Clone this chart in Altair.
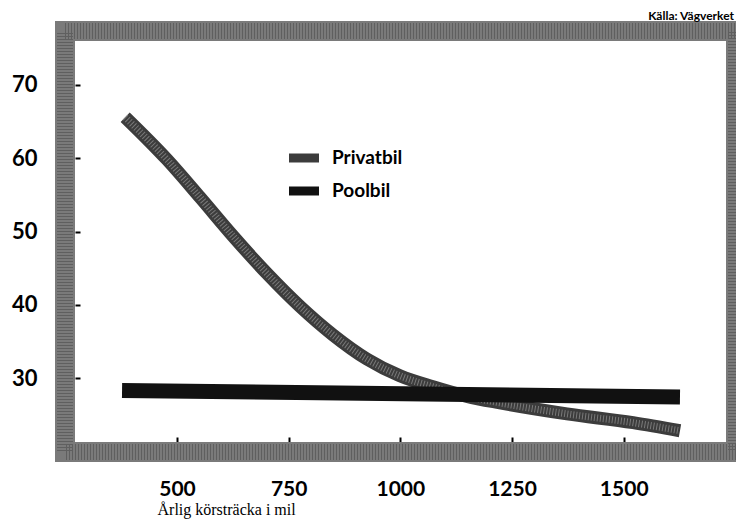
import altair as alt
import pandas as pd

# Data
privat_x = [384, 478, 551, 625, 701, 775, 849, 925, 999, 1073, 1149, 1223, 1373, 1521, 1626]
privat_y = [65.6, 59.8, 54.7, 49.4, 44.3, 39.8, 35.9, 32.6, 30.3, 28.8, 27.5, 26.6, 25.1, 23.9, 22.8]
pool_x = [377, 1626]
pool_y = [28.3, 27.4]
series = ["Privatbil", "Poolbil"]
x_ticks = [500, 750, 1000, 1250, 1500]
y_ticks = [30, 40, 50, 60, 70]
source_text = "Källa: Vägverket"
x_title = "Årlig körsträcka i mil"

W, H = 671, 421

df = pd.concat([
    pd.DataFrame({"Serie": "Privatbil", "x": privat_x, "y": privat_y}),
    pd.DataFrame({"Serie": "Poolbil", "x": pool_x, "y": pool_y}),
], ignore_index=True)

xs = alt.Scale(domain=[249.3, 1751.4], nice=False, zero=False)
ys = alt.Scale(domain=[19.9, 77.37], nice=False, zero=False)

x_axis = alt.Axis(values=x_ticks, format="d", title=x_title, offset=-15, domain=False, grid=False,
                  tickSize=5, tickWidth=2, tickColor="black", labelPadding=36,
                  labelFont="Lato", labelFontWeight="bold", labelFontSize=21, labelColor="black",
                  titleFont="Liberation Serif", titleFontWeight="normal", titleFontSize=16,
                  titleColor="black", titleX=92, titleY=77, titleAlign="left",
                  titleBaseline="alphabetic")
y_axis = alt.Axis(values=y_ticks, format="d", title=None, offset=-15, domain=False, grid=False,
                  tickSize=5, tickWidth=2, tickColor="black", labelPadding=38,
                  labelFont="Lato", labelFontWeight="bold", labelFontSize=22, labelColor="black")

color = alt.Color("Serie:N",
                  scale=alt.Scale(domain=series, range=["#3c3c3c", "#111111"]),
                  legend=alt.Legend(title=None, orient="none", legendX=227, legendY=115,
                                    symbolType="M-2,0H2", symbolSize=225, symbolStrokeWidth=9,
                                    rowPadding=-3, labelOffset=16, labelFont="Lato",
                                    labelFontWeight="bold", labelFontSize=19, labelColor="black"))

base = alt.Chart(df)

frame = alt.Chart(pd.DataFrame({"f": [0]})).mark_rect(
    filled=False, stroke="#7a7a7a", strokeWidth=20
).encode(x=alt.value(0), x2=alt.value(W), y=alt.value(0), y2=alt.value(H))

frame_tex = alt.Chart(pd.DataFrame({"f": [0]})).mark_rect(
    filled=False, stroke="#222222", strokeWidth=16, strokeDash=[1, 2], strokeOpacity=0.3
).encode(x=alt.value(0), x2=alt.value(W), y=alt.value(0), y2=alt.value(H))

priv = base.transform_filter(alt.datum.Serie == "Privatbil").mark_line(
    strokeWidth=13, interpolate="monotone", strokeCap="butt"
).encode(x=alt.X("x:Q", scale=xs, axis=x_axis), y=alt.Y("y:Q", scale=ys, axis=y_axis), color=color)

priv_tex = base.transform_filter(alt.datum.Serie == "Privatbil").mark_line(
    strokeWidth=7, interpolate="monotone", strokeCap="butt", color="#7a7a7a", strokeDash=[1, 2]
).encode(x=alt.X("x:Q", scale=xs), y=alt.Y("y:Q", scale=ys))

pool = base.transform_filter(alt.datum.Serie == "Poolbil").mark_line(
    strokeWidth=15, strokeCap="butt"
).encode(x=alt.X("x:Q", scale=xs), y=alt.Y("y:Q", scale=ys), color=color)

src = alt.Chart(pd.DataFrame({"t": [source_text]})).mark_text(
    align="right", baseline="alphabetic", font="Lato", fontWeight="bold", fontSize=12, color="black"
).encode(text="t:N", x=alt.value(W - 2), y=alt.value(-11))

chart = alt.layer(priv, priv_tex, pool, frame, frame_tex, src).properties(
    width=W, height=H,
    autosize=alt.AutoSizeParams(type="none"),
    padding={"left": 57, "top": 23, "right": 0, "bottom": 67},
).configure_view(strokeWidth=0, fill="white").configure(background="white")

chart.save("out.html", embed_options={"renderer": "svg", "actions": False})
